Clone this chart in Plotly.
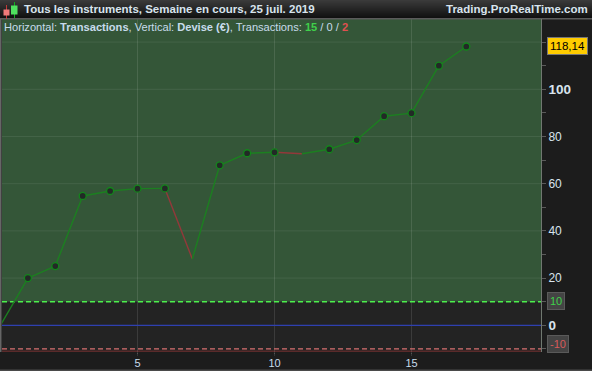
import plotly.graph_objects as go

trades = list(range(0, 18))
equity = [0, 20.0, 25.1, 54.8, 56.9, 57.9, 58.0, 28.1, 67.8, 72.9, 73.3, 72.7, 74.6, 78.5, 88.6, 89.9, 110.0, 118.14]
no_marker = [0, 7, 11]
y_ticks = [-10, 0, 10, 20, 30, 40, 50, 60, 70, 80, 90, 100, 110, 120]
SMALL = "<span style='font-size:12px'>%s</span>"
BIG = "<b><span style='font-size:13.5px'>%s</span></b>"
y_labels = ["", BIG % "0", "", SMALL % "20", "", SMALL % "40", "", SMALL % "60", "", SMALL % "80", "", BIG % "100", "", ""]
x_ticks = [5, 10, 15]
grid_y = [20, 40, 60, 80, 100, 120]

W, H = 592, 371
L, R, T, B = 2, 541, 19, 352
Y0, SCALE = 325.3, 2.36
FONT = "Liberation Sans, Arial, sans-serif"
GREEN = "#1c7f20"
RED = "#93383a"

def px(x):
    return (x - L) / (R - L)

def py(y):
    return (B - y) / (B - T)

fig = go.Figure()

for i in range(len(equity) - 1):
    up = equity[i + 1] >= equity[i]
    fig.add_trace(go.Scatter(x=trades[i:i + 2], y=equity[i:i + 2], mode="lines",
                             line=dict(color=GREEN if up else RED, width=1.4),
                             showlegend=False, hoverinfo="skip"))

fig.add_trace(go.Scatter(
    x=[t for t in trades if t not in no_marker],
    y=[v for t, v in zip(trades, equity) if t not in no_marker],
    mode="markers",
    marker=dict(size=7, color="#222a26", line=dict(color="#14851c", width=1.3)),
    showlegend=False, hoverinfo="skip"))

shapes = []

def rect(x0, y0, x1, y1, color, layer="above"):
    shapes.append(dict(type="rect", xref="paper", yref="paper", x0=px(x0), x1=px(x1),
                       y0=py(y1), y1=py(y0), fillcolor=color, line=dict(width=0), layer=layer))

# Zones
shapes.append(dict(type="rect", xref="paper", yref="y", x0=0, x1=1, y0=10, y1=130,
                   fillcolor="rgba(77,162,87,0.4)", line=dict(width=0), layer="below"))
rect(L, 350.5, R, B, "#5a2a2a", "below")

# Grid
for g in grid_y:
    shapes.append(dict(type="line", xref="paper", yref="y", x0=0, x1=1, y0=g, y1=g,
                       line=dict(color="rgba(255,255,255,0.08)", width=1), layer="below"))
for t in x_ticks:
    shapes.append(dict(type="line", xref="x", yref="paper", x0=t, x1=t, y0=py(356), y1=1,
                       line=dict(color="rgba(255,255,255,0.11)", width=1), layer="below"))

# Levels
shapes.append(dict(type="line", xref="paper", yref="y", x0=0, x1=1, y0=10, y1=10,
                   line=dict(color="#4cf04c", width=1.4, dash="5px,3px"), layer="below"))
shapes.append(dict(type="line", xref="paper", yref="y", x0=0, x1=1, y0=-10, y1=-10,
                   line=dict(color="#d87070", width=1.3, dash="5px,3px"), layer="below"))
shapes.append(dict(type="line", xref="paper", yref="y", x0=0, x1=1, y0=0, y1=0,
                   line=dict(color="#2f40b0", width=1.3), layer="below"))

# Header gradient
for i in range(18):
    v = 58 - i * 2.4
    c = f"rgb({int(v)},{int(v)},{int(v)})"
    rect(0, i, W, i + 1, c)
rect(0, 18, W, 19.5, "#5b5b5b")

# Window edges and plot edges
rect(0, 19, 1.5, 352, "#666666")
rect(541, 19, 542, 352, "#707870")
rect(0, 369.5, W, 371, "#4a4a4a")

# Candle icon
rect(6, 5, 7, 19, "#c03a3a")
rect(3.5, 9.5, 9.5, 15.5, "#f07a7a")
rect(14, 2, 15, 18, "#10b020")
rect(11, 5.5, 17.5, 14.5, "#50e060")

annotations = [
    dict(x=px(22), y=py(9.5), xref="paper", yref="paper", xanchor="left", yanchor="middle", showarrow=False,
         text="<b>Tous les instruments, Semaine en cours, 25 juil. 2019</b>",
         font=dict(family=FONT, size=11.5, color="#d8e4ee")),
    dict(x=px(590), y=py(9.5), xref="paper", yref="paper", xanchor="right", yanchor="middle", showarrow=False,
         text="<b>Trading.ProRealTime.com</b>",
         font=dict(family=FONT, size=11.5, color="#d8e4ee")),
    dict(x=px(2), y=py(27), xref="paper", yref="paper", xanchor="left", yanchor="middle", showarrow=False,
         text="Horizontal: <b>Transactions</b>, Vertical: <b>Devise (€)</b>, Transactions: "
              "<b><span style='color:#3fd04a'>15</span></b> / 0 / <b><span style='color:#e05050'>2</span></b>",
         font=dict(family=FONT, size=11.1, color="#c8dcec")),
    dict(x=px(546.5), y=py(46.5), xref="paper", yref="paper", xanchor="left", yanchor="middle", showarrow=False,
         text="118,14", bgcolor="#ffcc00", bordercolor="#777777", borderwidth=1, borderpad=2,
         font=dict(family=FONT, size=11.5, color="#000000")),
    dict(x=px(546.5), y=py(300.5), xref="paper", yref="paper", xanchor="left", yanchor="middle", showarrow=False,
         text="10", bgcolor="#444444", bordercolor="#5a5a5a", borderwidth=1, borderpad=2,
         font=dict(family=FONT, size=11, color="#3fd04a")),
    dict(x=px(546.5), y=py(343.5), xref="paper", yref="paper", xanchor="left", yanchor="middle", showarrow=False,
         text="-10", bgcolor="#444444", bordercolor="#5a5a5a", borderwidth=1, borderpad=2,
         font=dict(family=FONT, size=11, color="#d85a5a")),
]

fig.update_layout(
    width=W, height=H, autosize=False,
    margin=dict(l=L, r=W - R, t=T, b=H - B, pad=0),
    paper_bgcolor="#1c1c1c", plot_bgcolor="#232323",
    shapes=shapes, annotations=annotations,
    xaxis=dict(automargin=False, range=[(L - 0.5) / 27.4, (R - 0.5) / 27.4], tickvals=x_ticks,
               ticktext=[str(t) for t in x_ticks],
               showgrid=False, zeroline=False, showline=False,
               ticks="outside", ticklen=1, tickcolor="#555555", tickwidth=1,
               tickfont=dict(family=FONT, size=11, color="#c8dcec")),
    yaxis=dict(automargin=False, side="right", range=[(Y0 - B) / SCALE, (Y0 - T) / SCALE],
               tickmode="array", tickvals=y_ticks, ticktext=y_labels,
               showgrid=False, zeroline=False, showline=False,
               ticks="outside", ticklen=4, tickcolor="#5a5a5a", tickwidth=1,
               tickfont=dict(family=FONT, size=12, color="#d8e4ee")),
)

fig.write_html("out.html", config={"displayModeBar": False},
               post_script="document.body.style.margin='0';document.documentElement.style.overflow='hidden';")
